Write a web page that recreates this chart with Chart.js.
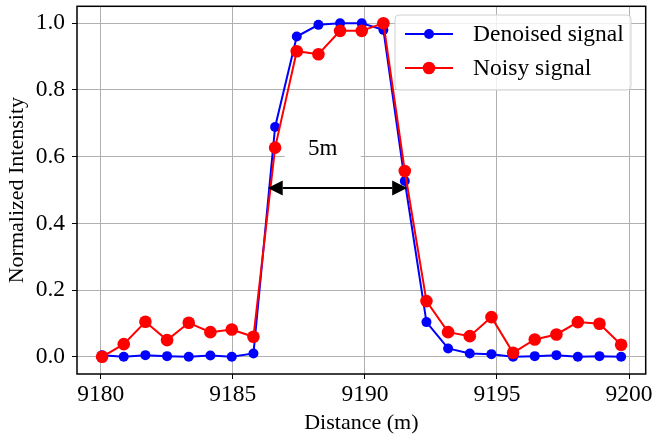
<!DOCTYPE html>
<html>
<head>
<meta charset="utf-8">
<script src="https://cdn.jsdelivr.net/npm/chart.js@4.4.0/dist/chart.umd.min.js"></script>
<style>
  html, body { margin: 0; padding: 0; background: #fff; }
  #chart { display: block; }
</style>
</head>
<body>
<canvas id="chart" width="652" height="443"></canvas>
<script>
// Sample positions along the fibre (m)
const distances = [9180.05, 9180.87, 9181.69, 9182.51, 9183.33, 9184.15, 9184.96, 9185.78, 9186.60,
    9187.42, 9188.24, 9189.06, 9189.88, 9190.70, 9191.51, 9192.33, 9193.15, 9193.97, 9194.79,
    9195.61, 9196.43, 9197.25, 9198.06, 9198.88, 9199.70];

const denoised = [0.005, 0.0, 0.005, 0.002, 0.0, 0.004, 0.0, 0.01, 0.689, 0.96, 0.995, 1.0, 1.0,
    0.98, 0.527, 0.104, 0.025, 0.01, 0.008, 0.0, 0.002, 0.005, 0.0, 0.002, 0.0];

const noisy = [0.0, 0.038, 0.105, 0.05, 0.102, 0.074, 0.082, 0.06, 0.627, 0.916, 0.907, 0.977, 0.977,
    1.0, 0.557, 0.167, 0.074, 0.062, 0.119, 0.012, 0.052, 0.067, 0.104, 0.099, 0.036];

const xTicks = [9180, 9185, 9190, 9195, 9200];
const yTicks = [0.0, 0.2, 0.4, 0.6, 0.8, 1.0];

// "5m" width marker
const spanStart = 9186.32;
const spanEnd = 9191.60;
const spanY = 0.506;
const spanLabel = "5m";
const spanLabelX = 9188.40;
const spanLabelY = 0.622;

const FONT = "'Liberation Serif', 'Times New Roman', serif";

function toPoints(ys) {
    return ys.map((y, i) => ({ x: distances[i], y: y }));
}

// frame, annotation and legend drawn on top of the chart
const extras = {
    id: "extras",
    afterDraw(chart) {
        const ctx = chart.ctx;
        const a = chart.chartArea;
        const xs = chart.scales.x, ys = chart.scales.y;
        ctx.save();

        // axes frame
        ctx.strokeStyle = "#000";
        ctx.lineWidth = 1.5;
        ctx.strokeRect(a.left, a.top, a.right - a.left, a.bottom - a.top);

        // label box + text
        const lx = xs.getPixelForValue(spanLabelX);
        const ly = ys.getPixelForValue(spanLabelY);
        ctx.fillStyle = "#fff";
        ctx.fillRect(lx - 38, ly - 20, 76, 30);
        ctx.fillStyle = "#000";
        ctx.font = "23px " + FONT;
        ctx.textAlign = "center";
        ctx.textBaseline = "middle";
        ctx.fillText(spanLabel, lx, ly);

        // double arrow
        const x1 = xs.getPixelForValue(spanStart);
        const x2 = xs.getPixelForValue(spanEnd);
        const y = ys.getPixelForValue(spanY);
        const hl = 15, hw = 7.5;
        ctx.lineWidth = 2;
        ctx.beginPath();
        ctx.moveTo(x1 + hl, y);
        ctx.lineTo(x2 - hl, y);
        ctx.stroke();
        ctx.beginPath();
        ctx.moveTo(x1, y); ctx.lineTo(x1 + hl, y - hw); ctx.lineTo(x1 + hl, y + hw); ctx.closePath();
        ctx.moveTo(x2, y); ctx.lineTo(x2 - hl, y - hw); ctx.lineTo(x2 - hl, y + hw); ctx.closePath();
        ctx.fill();

        // legend
        const bx = 395, by = 15, bw = 236, bh = 75, r = 4;
        ctx.beginPath();
        ctx.moveTo(bx + r, by);
        ctx.arcTo(bx + bw, by, bx + bw, by + bh, r);
        ctx.arcTo(bx + bw, by + bh, bx, by + bh, r);
        ctx.arcTo(bx, by + bh, bx, by, r);
        ctx.arcTo(bx, by, bx + bw, by, r);
        ctx.closePath();
        ctx.fillStyle = "rgba(255,255,255,0.8)";
        ctx.fill();
        ctx.strokeStyle = "#d0d0d0";
        ctx.lineWidth = 1;
        ctx.stroke();

        const rows = [34, 68];
        const order = [1, 0]; // denoised first, as in the figure
        order.forEach((di, k) => {
            const ds = chart.data.datasets[di];
            const ry = rows[k];
            ctx.strokeStyle = ds.borderColor;
            ctx.lineWidth = 2;
            ctx.beginPath();
            ctx.moveTo(405, ry);
            ctx.lineTo(453, ry);
            ctx.stroke();
            ctx.fillStyle = ds.borderColor;
            ctx.beginPath();
            ctx.arc(429, ry, ds.pointRadius, 0, Math.PI * 2);
            ctx.fill();
            ctx.fillStyle = "#000";
            ctx.font = "23.5px " + FONT;
            ctx.textAlign = "left";
            ctx.textBaseline = "middle";
            ctx.fillText(ds.label, 473, ry + 1);
        });

        ctx.restore();
    }
};

const ctx = document.getElementById("chart").getContext("2d");
new Chart(ctx, {
    type: "line",
    data: {
        datasets: [
            {
                label: "Noisy signal",
                data: toPoints(noisy),
                borderColor: "#ff0000",
                backgroundColor: "#ff0000",
                borderWidth: 2,
                pointRadius: 6.3,
                pointBorderWidth: 0,
                tension: 0,
                order: 1
            },
            {
                label: "Denoised signal",
                data: toPoints(denoised),
                borderColor: "#0000ff",
                backgroundColor: "#0000ff",
                borderWidth: 2,
                pointRadius: 5,
                pointBorderWidth: 0,
                tension: 0,
                order: 2
            }
        ]
    },
    options: {
        responsive: false,
        animation: false,
        devicePixelRatio: 1,
        layout: { padding: { top: 4, right: 6, left: 0, bottom: 0 } },
        plugins: {
            legend: { display: false },
            tooltip: { enabled: false }
        },
        scales: {
            x: {
                type: "linear",
                min: 9179.10,
                max: 9200.63,
                afterFit: (s) => {
                    s.height = 69;
                    s.paddingLeft = 0;
                    s.paddingRight = 0;
                },
                afterBuildTicks: (s) => { s.ticks = xTicks.map(v => ({ value: v })); },
                grid: { color: "#b0b0b0", lineWidth: 1, tickColor: "#000", tickLength: 5 },
                border: { display: false },
                ticks: {
                    color: "#000",
                    font: { family: FONT, size: 23.5 },
                    padding: 2,
                    maxRotation: 0,
                    callback: (v) => String(v)
                },
                title: {
                    display: true,
                    text: "Distance (m)",
                    color: "#000",
                    font: { family: FONT, size: 22 },
                    padding: { top: 0, bottom: 7 }
                }
            },
            y: {
                min: -0.0515,
                max: 1.0506,
                afterFit: (s) => {
                    s.width = 77;
                    s.paddingTop = 0;
                    s.paddingBottom = 0;
                },
                afterBuildTicks: (s) => { s.ticks = yTicks.map(v => ({ value: v })); },
                grid: { color: "#b0b0b0", lineWidth: 1, tickColor: "#000", tickLength: 5 },
                border: { display: false },
                ticks: {
                    color: "#000",
                    font: { family: FONT, size: 23.5 },
                    padding: 7,
                    callback: (v) => v.toFixed(1)
                },
                title: {
                    display: true,
                    text: "Normalized Intensity",
                    color: "#000",
                    font: { family: FONT, size: 22 },
                    padding: { top: 4, bottom: 0 }
                }
            }
        }
    },
    plugins: [extras]
});
</script>
</body>
</html>
